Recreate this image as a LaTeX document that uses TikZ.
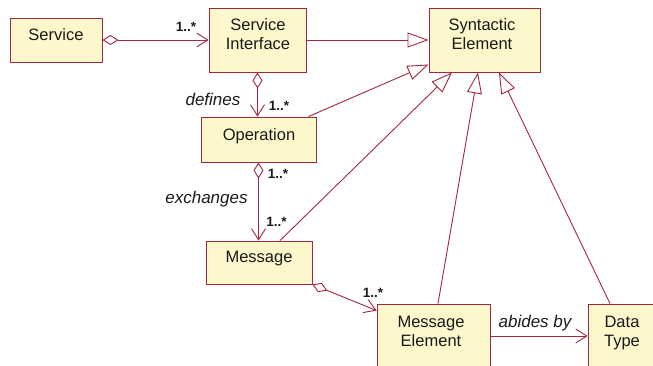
\documentclass[tikz,border=0pt]{standalone}
\usepackage{fontspec}
\setmainfont{Liberation Sans}
\usetikzlibrary{arrows.meta,calc}
\definecolor{umlline}{HTML}{A3263F}
\definecolor{umlfill}{HTML}{FCF8CC}
\definecolor{umltext}{HTML}{1A1A1A}
\tikzset{
  cls/.style={draw=umlline, fill=umlfill, line width=0.9pt, rectangle, inner sep=0pt},
  clstext/.style={text=umltext, font=\fontsize{16.5}{19}\selectfont, align=center, inner sep=0pt, text depth=0pt},
  conn/.style={draw=umlline, line width=0.9pt},
  aggr/.style={conn, {Diamond[open, fill=white, length=16pt, width=10pt]}-{Straight Barb[length=11pt, width=14pt]}},
  gen/.style={conn, -{Triangle[open, fill=white, length=21pt, width=15pt]}},
  assoc/.style={conn, -{Straight Barb[length=11pt, width=14pt]}},
  mult/.style={text=umltext, font=\fontsize{13.5}{16}\selectfont\bfseries, inner sep=0pt},
  role/.style={text=umltext, font=\fontsize{17}{20}\selectfont\itshape, inner sep=0pt},
}
\begin{document}
\begin{tikzpicture}[x=1pt, y=-1pt]
  \useasboundingbox (0,0) rectangle (653,365);
  \clip (0,0) rectangle (653,365);

  % class boxes
  \node[cls, minimum width=92pt,  minimum height=44pt] (svc) at (56,40) {};
  \node[cls, minimum width=97pt,  minimum height=64pt] (si)  at (257.5,40) {};
  \node[cls, minimum width=111pt, minimum height=64pt] (se)  at (484.5,40) {};
  \node[cls, minimum width=115pt, minimum height=45pt] (op)  at (258.5,139.5) {};
  \node[cls, minimum width=106pt, minimum height=43pt] (msg) at (259,262.5) {};
  \node[cls, minimum width=113pt, minimum height=64pt] (me)  at (433.5,336) {};
  \node[cls, minimum width=69pt,  minimum height=64pt] (dt)  at (622.5,336) {};

  % class names
  \node[clstext] (svcT) at (56,35) {Service};
  \node[clstext] (siT)  at (258,34.5) {Service\\Interface};
  \node[clstext] (seT)  at (482,34.5) {Syntactic\\Element};
  \node[clstext] (opT)  at (259,135) {Operation};
  \node[clstext] (msgT) at (259,257) {Message};
  \node[clstext] (meT)  at (431,331) {Message\\Element};
  \node[clstext] (dtT)  at (622,331) {Data\\Type};

  % aggregations
  \draw[aggr] (svc.east) -- (si.west);
  \draw[aggr] (si.south) -- (si.south |- op.north);
  \draw[aggr] (op.south) -- (op.south |- msg.north);
  \draw[aggr] (msg.south east) -- ([yshift=-7pt]me.north west);

  % generalisations
  \draw[gen] (si.east) -- (se.west);
  \draw[gen] ([xshift=-8pt]op.north east) -- ([yshift=8pt]se.south west);
  \draw[gen] ([xshift=21pt]msg.north) -- ([xshift=-32.5pt]se.south);
  \draw[gen] ([xshift=4.5pt]me.north) -- ([xshift=-6.5pt]se.south);
  \draw[gen] ([xshift=-12.5pt]dt.north) -- ([xshift=14.5pt]se.south);

  % association
  \draw[assoc] (me.east) -- (dt.west);

  % labels
  \node[mult] (m1) at (186,27) {1..*};
  \node[mult] (m2) at (279,106) {1..*};
  \node[mult] (m3) at (278,174) {1..*};
  \node[mult] (m4) at (276.5,222) {1..*};
  \node[mult] (m5) at (373,293) {1..*};
  \node[role] (r1) at (213,99) {defines};
  \node[role] (r2) at (206.5,199) {exchanges};
  \node[role] (r3) at (535,323) {abides by};
\end{tikzpicture}
\end{document}
